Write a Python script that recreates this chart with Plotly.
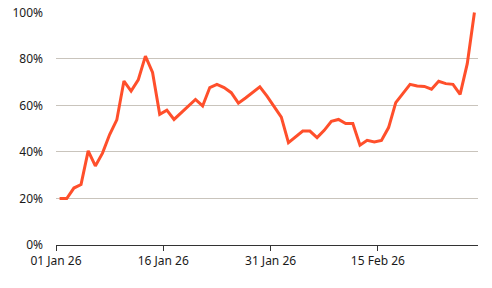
import plotly.graph_objects as go
import pandas as pd

start_date = "2026-01-01 12:00"
values = [20, 20, 24.5, 26, 40.5, 34, 39.5, 47.5, 53.8, 70.5,
          66.2, 71, 81.2, 74.2, 56.2, 58, 54, 56.8, 59.8, 62.6,
          59.8, 67.7, 69.1, 67.7, 65.5, 61, 63.2, 65.7, 68, 64,
          59.4, 55, 44, 46.5, 49, 49, 46.2, 49.3, 53.2, 54,
          52.2, 52.2, 42.9, 45, 44.3, 45, 50.5, 61.2, 65.1, 69.1,
          68.4, 68.2, 67, 70.4, 69.4, 69.1, 64.8, 78, 100]
dates = pd.date_range(start_date, periods=len(values), freq="D")

x_range = ["2026-01-01", "2026-03-01"]
y_ticks = [0, 20, 40, 60, 80, 100]
y_labels = [f"{v}%" for v in y_ticks]

fig = go.Figure()
fig.add_trace(go.Scatter(
    x=dates, y=values, mode="lines",
    line=dict(color="#FF4F2B", width=3),
    hoverinfo="skip",
))

fig.update_layout(
    width=492, height=288,
    margin=dict(l=56, r=14, t=12, b=43, autoexpand=False),
    paper_bgcolor="white", plot_bgcolor="white",
    showlegend=False,
    font=dict(family="Noto Sans", size=12, color="#1a1a1a"),
)
fig.update_xaxes(
    range=x_range, type="date",
    tick0="2026-01-01", dtick=15 * 86400000,
    tickformat="%d %b %y",
    showgrid=False, zeroline=False,
    showline=True, linecolor="#333333", linewidth=1,
    ticks="outside", ticklen=5, tickcolor="#333333", tickwidth=1,
    automargin=False,
)
fig.update_yaxes(
    range=[0, 100.2], tickmode="array", tickvals=y_ticks, ticktext=y_labels,
    showgrid=True, gridcolor="#c9c4bc", gridwidth=1,
    zeroline=False, showline=False, ticks="",
    ticklabelstandoff=12, automargin=False,
)
fig.write_html("out.html")
